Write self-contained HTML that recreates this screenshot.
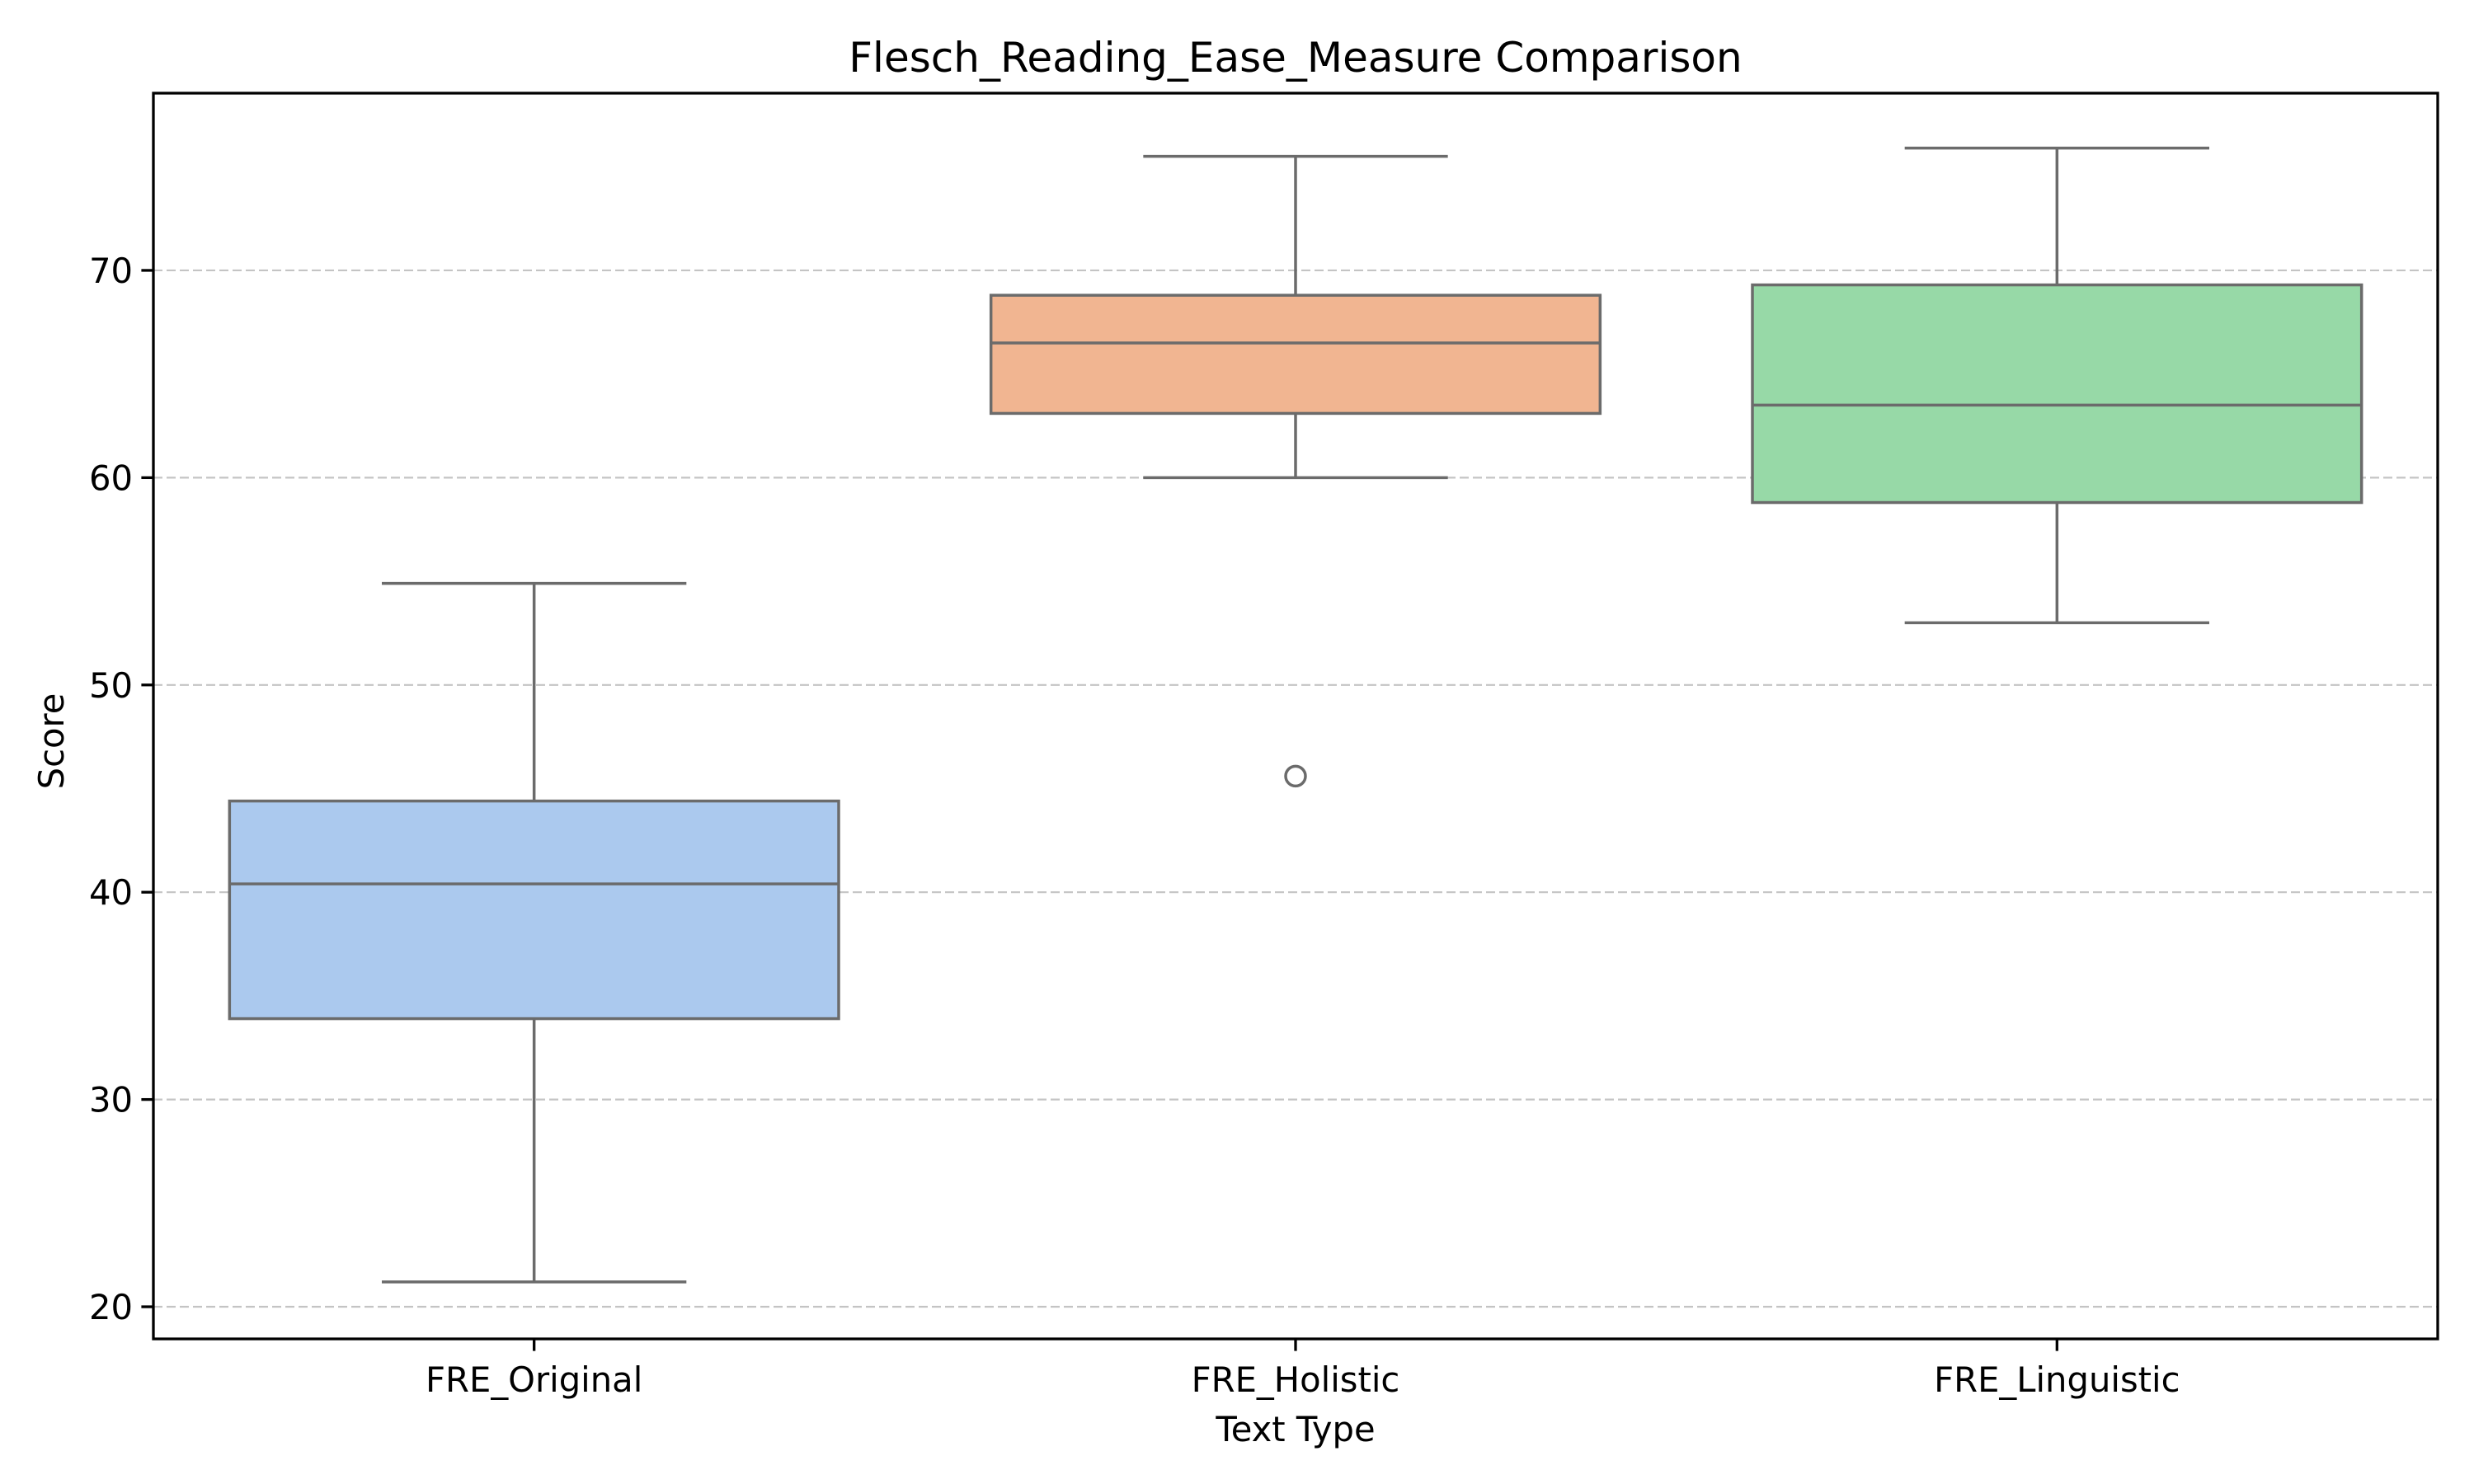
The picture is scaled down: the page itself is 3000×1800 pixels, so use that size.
<!DOCTYPE html>
<html><head><meta charset="utf-8"><style>
html,body{margin:0;padding:0;background:#fff}
svg{display:block;font-family:"DejaVu Sans","Liberation Sans",sans-serif}
</style></head><body>
<svg id="chart" width="3000" height="1800" viewBox="0 0 3000 1800" xmlns="http://www.w3.org/2000/svg">
<rect width="3000" height="1800" fill="#fff"/>
<g id="grid"></g><g id="boxes"></g><g id="axes"></g>
<text x="1571" y="87" font-size="50" text-anchor="middle">Flesch_Reading_Ease_Measure Comparison</text>
<text x="1571" y="1748" font-size="41.7" text-anchor="middle">Text Type</text>
<text x="0" y="0" font-size="41.7" text-anchor="middle" transform="translate(77,899) rotate(-90)">Score</text>
</svg>
<script>
const categories = ["FRE_Original","FRE_Holistic","FRE_Linguistic"];
const whiskerLow = [21.2, 60.0, 53.0];
const q1 = [33.9, 63.1, 58.8];
const medians = [40.4, 66.5, 63.5];
const q3 = [44.4, 68.8, 69.3];
const whiskerHigh = [54.9, 75.5, 75.9];
const outlierCat = [1];
const outlierVal = [45.6];
const yTicks = [20, 30, 40, 50, 60, 70];
const fills = ["#abc9ee","#f1b591","#97d9a7"];

const NS="http://www.w3.org/2000/svg";
const L=186,R=2956,T=113,B=1624, yMin=18.45, yMax=78.55;
const y=v=>B-(v-yMin)/(yMax-yMin)*(B-T);
const step=(R-L)/categories.length;
const x=i=>L+step*(i+0.5);
function mk(tag,attrs,parent){const e=document.createElementNS(NS,tag);for(const k in attrs)e.setAttribute(k,attrs[k]);parent.appendChild(e);return e;}
const grid=document.getElementById('grid'),boxes=document.getElementById('boxes'),axes=document.getElementById('axes');
const lc="#6b6b6b";
yTicks.forEach(t=>{
  const g=mk('line',{x1:L,x2:R,y1:y(t),y2:y(t),stroke:"#c4c4c4","stroke-width":2.2,"stroke-dasharray":"11 5"},grid);
  
  
  const tk=mk('line',{x1:L-14.6,x2:L,y1:y(t),y2:y(t),stroke:"#000","stroke-width":3.3},axes);
  
  
  const tx=mk('text',{x:L-25,y:y(t)+15,"font-size":41.7,"text-anchor":"end"},axes);
  tx.textContent=t;
  
  
});
const bw=step*0.8;
categories.forEach((c,i)=>{
  const cx=x(i);
  const g=mk('g',{},boxes);
  
  
  mk('line',{x1:cx,x2:cx,y1:y(whiskerLow[i]),y2:y(q1[i]),stroke:lc,"stroke-width":3.5},g);
  mk('line',{x1:cx,x2:cx,y1:y(q3[i]),y2:y(whiskerHigh[i]),stroke:lc,"stroke-width":3.5},g);
  mk('line',{x1:cx-bw/4,x2:cx+bw/4,y1:y(whiskerLow[i]),y2:y(whiskerLow[i]),stroke:lc,"stroke-width":3.5},g);
  mk('line',{x1:cx-bw/4,x2:cx+bw/4,y1:y(whiskerHigh[i]),y2:y(whiskerHigh[i]),stroke:lc,"stroke-width":3.5},g);
  mk('rect',{x:cx-bw/2,y:y(q3[i]),width:bw,height:y(q1[i])-y(q3[i]),fill:fills[i],stroke:lc,"stroke-width":3.5},g);
  mk('line',{x1:cx-bw/2,x2:cx+bw/2,y1:y(medians[i]),y2:y(medians[i]),stroke:lc,"stroke-width":3.5},g);
  const tk=mk('line',{x1:cx,x2:cx,y1:B,y2:B+14.6,stroke:"#000","stroke-width":3.3},axes);
  
  
  const tx=mk('text',{x:cx,y:B+64,"font-size":41.7,"text-anchor":"middle"},axes);
  tx.textContent=c;
  
  
});
outlierCat.forEach((ci,k)=>{
  const o=mk('circle',{cx:x(ci),cy:y(outlierVal[k]),r:12,fill:"none",stroke:lc,"stroke-width":3.5},boxes);
  
  
});
const fr=mk('rect',{x:L,y:T,width:R-L,height:B-T,fill:"none",stroke:"#000","stroke-width":3.3},axes);


</script>
</body></html>
